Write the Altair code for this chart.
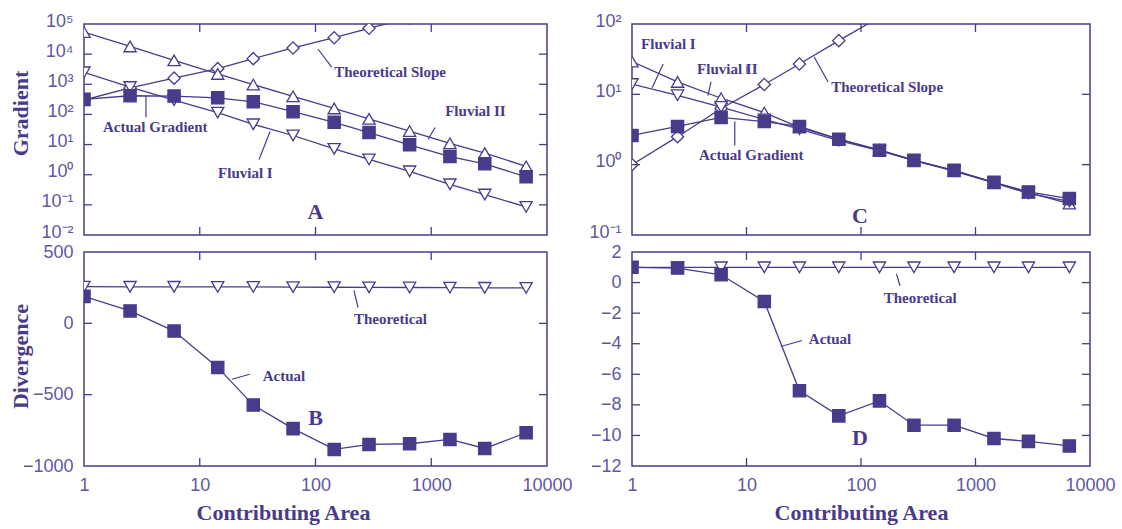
import altair as alt
import pandas as pd

PURPLE = "#4a3a8a"
LABEL = "#62579f"

# ---------------- data ----------------
area = [1, 2.5, 6, 14.3, 29, 64, 145, 290, 650, 1450, 2900, 6600]

# Panel A (gradient, log)
a_fluvial2 = [54000, 18000, 6200, 2200, 980, 400, 158, 71, 28, 11, 5.2, 1.9]
a_fluvial1 = [2500, 810, 300, 115, 47, 20, 7.2, 3.2, 1.3, 0.48, 0.22, 0.085]
a_theory = [300, 760, 1600, 3300, 7100, 16000, 35000, 72000, 160000, 360000, 750000, 1700000]
a_actual = [316, 417, 407, 355, 263, 123, 55, 25, 9.8, 4.0, 2.3, 0.85]

# Panel B (divergence)
b_theory = [257, 256, 256, 255, 255, 254, 253, 252, 251, 250, 249, 248]
b_actual = [189, 87, -54, -309, -573, -738, -884, -849, -844, -814, -877, -767]

# Panel C (gradient, log)
c_fluvial2 = [29.3, 15, 8.8, 5.5, 3.4, 2.3, 1.62, 1.16, 0.82, 0.56, 0.40, 0.28]
c_fluvial1 = [14, 9.7, 6.6, 4.4, 3.2, 2.2, 1.58, 1.14, 0.81, 0.55, 0.39, 0.30]
c_theory = [1.0, 2.5, 6.3, 13.8, 27, 58, 125, 270, 600, 1300, 2700, 6000]
c_actual = [2.6, 3.5, 4.7, 4.1, 3.5, 2.3, 1.6, 1.15, 0.83, 0.56, 0.41, 0.33]

# Panel D (divergence)
d_theory = [1.0, 1.0, 1.0, 1.0, 1.0, 1.0, 1.0, 1.0, 1.0, 1.0, 1.0, 1.0]
d_actual = [1.0, 0.95, 0.51, -1.24, -7.08, -8.72, -7.74, -9.33, -9.33, -10.2, -10.39, -10.69]

x_ticks = [1, 10, 100, 1000, 10000]
a_yticks = [0.01, 0.1, 1, 10, 100, 1000, 10000, 100000]
b_yticks = [-1000, -500, 0, 500]
c_yticks = [0.1, 1, 10, 100]
d_yticks = [-12, -10, -8, -6, -4, -2, 0, 2]

# annotations: (label, x, y, kind)
a_text = [("Theoretical Slope", 145, 2500, "note"), ("Fluvial II", 1320, 126, "note"),
          ("Actual Gradient", 1.46, 37, "note"), ("Fluvial I", 14.4, 1.17, "note"),
          ("A", 100, 0.059, "letter")]
a_lead = [(105, 14800, 138, 3700), (1080, 37, 940, 15), (3.43, 400, 3.43, 80), (32.5, 3.16, 40.5, 27)]
b_text = [("Theoretical", 215, 33, "note"), ("Actual", 35, -370, "note"), ("B", 100, -667, "letter")]
b_lead = [(215, 231, 233, 111), (19, -392, 27, -357)]
c_text = [("Fluvial I", 1.2, 52, "note"), ("Fluvial II", 3.7, 23, "note"),
          ("Theoretical Slope", 55, 12.8, "note"), ("Actual Gradient", 3.85, 1.36, "note"),
          ("C", 98, 0.186, "letter")]
c_lead = [(1.87, 27, 1.5, 12.4), (4.9, 15, 4.6, 9.6), (39, 34, 51.6, 15), (7.9, 4.1, 7.9, 1.88),
          (10.1, 25.7, 10.1, 20)]
d_text = [("Theoretical", 158, -1.0, "note"), ("Actual", 35, -3.66, "note"), ("D", 98, -10.17, "letter")]
d_lead = [(204, 0.57, 219, -0.21), (20, -4.18, 30.5, -3.79)]

SUP = {-2: "⁻²", -1: "⁻¹", 0: "⁰", 1: "¹", 2: "²", 3: "³", 4: "⁴", 5: "⁵"}


def log_label_expr():
    e = "round(log(datum.value)/LN10)"
    expr = "''"
    for k, v in SUP.items():
        expr = f"({e} == {k} ? '{v}' : {expr})"
    return "'10' + " + expr


def panel(series, ylog, ydomain, yticks, W, H, show_x, ytitle, ytitle_y, texts, leads):
    xscale = alt.Scale(type="log", domain=[1, 10000], nice=False)
    yscale = alt.Scale(type="log" if ylog else "linear", domain=ydomain, nice=False, zero=False)

    if show_x:
        xaxis = alt.Axis(values=x_ticks, format="d", ticks=False, domain=False, grid=False,
                         labelPadding=10, labelFlush=False, labelOverlap=False,
                         title="Contributing Area", titleX=W / 2 if W < 460 else 199,
                         titleY=53, titleBaseline="alphabetic", titleAlign="center")
    else:
        xaxis = None

    yargs = dict(values=yticks, ticks=False, domain=False, grid=False, labelPadding=11,
                 labelFlush=False, labelOverlap=False,
                 title=ytitle if ytitle else None)
    if ylog:
        yargs["labelExpr"] = log_label_expr()
        yargs["labelOffset"] = -3
    else:
        yargs["format"] = "d"
    if ytitle:
        yargs.update(titleX=-64, titleY=ytitle_y, titleAngle=-90, titleAlign="center",
                     titleBaseline="middle")
    yaxis = alt.Axis(**yargs)

    def X(f):
        return alt.X(f, type="quantitative", scale=xscale, axis=xaxis)

    def Y(f):
        return alt.Y(f, type="quantitative", scale=yscale, axis=yaxis)

    rows = []
    for k, (name, vals, shape, fill) in enumerate(series):
        for a, v in zip(area, vals):
            rows.append({"area": a, "value": v, "series": name, "shape": shape,
                         "fill": fill, "ord": k})
    df = pd.DataFrame(rows)

    lines = alt.Chart(df).mark_line(color=PURPLE, strokeWidth=1.3, clip=True).encode(
        x=X("area"), y=Y("value"), detail="series:N")
    points = alt.Chart(df).mark_point(filled=True, size=150, stroke=PURPLE, strokeWidth=1.3,
                                      opacity=1, clip=True).encode(
        x=X("area"), y=Y("value"),
        shape=alt.Shape("shape:N", scale=None),
        fill=alt.Fill("fill:N", scale=None),
        order=alt.Order("ord:Q"),
    )

    xt = pd.DataFrame({"t": x_ticks[1:-1]})
    yt = pd.DataFrame({"t": yticks[1:-1]})
    tk = dict(color=PURPLE, strokeWidth=1.3)
    tb = alt.Chart(xt).mark_rule(**tk).encode(x=X("t"), y=alt.value(H), y2=alt.value(H - 8))
    tt = alt.Chart(xt).mark_rule(**tk).encode(x=X("t"), y=alt.value(0), y2=alt.value(8))
    tl = alt.Chart(yt).mark_rule(**tk).encode(y=Y("t"), x=alt.value(0), x2=alt.value(8))
    tr = alt.Chart(yt).mark_rule(**tk).encode(y=Y("t"), x=alt.value(W), x2=alt.value(W - 8))

    tdf = pd.DataFrame(texts, columns=["label", "x", "y", "kind"])
    notes = alt.Chart(tdf[tdf.kind == "note"]).mark_text(
        align="left", baseline="middle", font="Liberation Serif", fontWeight="bold",
        fontSize=15, color=PURPLE).encode(x=X("x"), y=Y("y"), text="label:N")
    letters = alt.Chart(tdf[tdf.kind == "letter"]).mark_text(
        align="center", baseline="middle", font="Liberation Serif", fontWeight="bold",
        fontSize=22, color=PURPLE).encode(x=X("x"), y=Y("y"), text="label:N")
    ldf = pd.DataFrame(leads, columns=["x1", "y1", "x2", "y2"])
    leaders = alt.Chart(ldf).mark_rule(color=PURPLE, strokeWidth=1.2).encode(
        x=X("x1"), y=Y("y1"), x2="x2:Q", y2="y2:Q")

    return alt.layer(lines, points, tb, tt, tl, tr, leaders, notes, letters).properties(
        width=W, height=H)


W1, W2 = 463, 458
H1, H2 = 211, 214

pA = panel([("Theoretical Slope", a_theory, "diamond", "white"),
            ("Fluvial II", a_fluvial2, "triangle-up", "white"),
            ("Fluvial I", a_fluvial1, "triangle-down", "white"),
            ("Actual Gradient", a_actual, "square", PURPLE)],
           True, [0.01, 100000], a_yticks, W1, H1, False, "Gradient", 89, a_text, a_lead)
pB = panel([("Theoretical", b_theory, "triangle-down", "white"),
            ("Actual", b_actual, "square", PURPLE)],
           False, [-1000, 500], b_yticks, W1, H2, True, "Divergence", 104, b_text, b_lead)
pC = panel([("Theoretical Slope", c_theory, "diamond", "white"),
            ("Fluvial II", c_fluvial2, "triangle-up", "white"),
            ("Fluvial I", c_fluvial1, "triangle-down", "white"),
            ("Actual Gradient", c_actual, "square", PURPLE)],
           True, [0.1, 100], c_yticks, W2, H1, False, None, 0, c_text, c_lead)
pD = panel([("Theoretical", d_theory, "triangle-down", "white"),
            ("Actual", d_actual, "square", PURPLE)],
           False, [-12, 2], d_yticks, W2, H2, True, None, 0, d_text, d_lead)

chart = alt.concat(pA, pC, pB, pD, columns=2, spacing={"row": 17, "column": 85},
                   bounds="flush").properties(
    padding={"left": 8, "top": 11, "right": 2, "bottom": 2}, background="white"
).configure_view(stroke=PURPLE, strokeWidth=1.5).configure_axis(
    labelFont="Liberation Sans", labelFontSize=18, labelColor=LABEL,
    titleFont="Liberation Serif", titleFontWeight="bold", titleFontSize=22, titleColor=PURPLE
)

chart.save("out.html", embed_options={"renderer": "svg", "actions": False})
